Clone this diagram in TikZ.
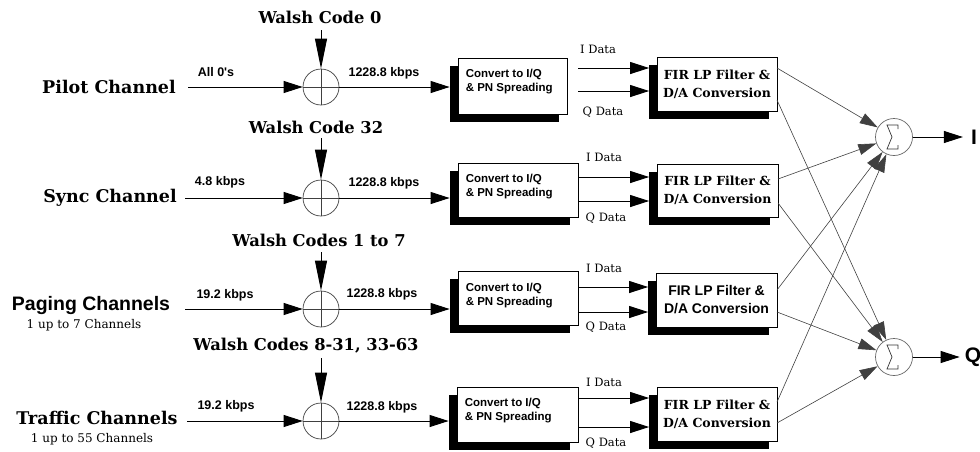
\documentclass[tikz,border=0pt]{standalone}
\usepackage{fontspec}
\setmainfont{DejaVu Serif}
\newfontfamily\hv{Liberation Sans}
\usetikzlibrary{arrows.meta,shadows,calc}

\tikzset{
  every node/.style={inner sep=1pt},
  sig/.style={line width=0.9pt, -{Triangle[length=19pt,width=12pt]}},
  warr/.style={line width=0.9pt, -{Triangle[length=30pt,width=12pt]}},
  xline/.style={line width=0.6pt, draw=black!75, -{Triangle[length=18pt,width=11pt]}},
  xorc/.style={circle, draw=black!75, line width=0.7pt, minimum size=36pt, inner sep=0pt,
    path picture={\draw[black!75,line width=0.7pt]
      (path picture bounding box.north) -- (path picture bounding box.south)
      (path picture bounding box.west) -- (path picture bounding box.east);}},
  sumc/.style={circle, draw=black!60, line width=0.7pt, minimum size=37pt, inner sep=0pt,
    path picture={\coordinate (pc) at (path picture bounding box.center);
      \draw[black!80,line width=0.7pt]
        ([shift={(4,-8)}]pc) -- ([shift={(4,-12)}]pc) -- ([shift={(-7,-12)}]pc)
        -- ([shift={(-2,0)}]pc) -- ([shift={(-7,12)}]pc) -- ([shift={(4,12)}]pc) -- ([shift={(4,8)}]pc);}},
  blk/.style={draw=black, line width=0.8pt, fill=white,
    drop shadow={shadow xshift=-8pt, shadow yshift=-8pt, fill=black, opacity=1}},
  chanS/.style={font=\bfseries\fontsize{17.5}{20}\selectfont},
  chanH/.style={font=\hv\bfseries\fontsize{19.5}{22}\selectfont},
  subS/.style={font=\fontsize{12}{14}\selectfont},
  walsh/.style={font=\bfseries\fontsize{16.3}{18}\selectfont},
  rate/.style={font=\hv\bfseries\fontsize{12.5}{14}\selectfont},
  dat/.style={font=\fontsize{11.5}{13}\selectfont},
  cvt/.style={font=\hv\bfseries\fontsize{11.5}{14.5}\selectfont, align=left, anchor=base west},
  firS/.style={font=\bfseries\fontsize{12.5}{18}\selectfont, align=center},
  firH/.style={font=\hv\bfseries\fontsize{14}{18}\selectfont, align=center},
  outl/.style={font=\hv\bfseries\fontsize{21}{24}\selectfont},
}

\begin{document}
\begin{tikzpicture}[x=1pt,y=-1pt]
\useasboundingbox (0,0) rectangle (980,451);

% channel names
\node[chanS] (pilot) at (109,87) {Pilot Channel};
\node[chanS] (sync) at (110,198) {Sync Channel};
\node[chanH] (paging) at (91,305) {Paging Channels};
\node[subS] (pagingsub) at (84,325) {1 up to 7 Channels};
\node[chanS] (traffic) at (97,418) {Traffic Channels};
\node[subS] (trafficsub) at (92,439) {1 up to 55 Channels};

% modulo-2 adders
\node[xorc] (x1) at (321,87) {};
\node[xorc] (x2) at (321,198) {};
\node[xorc] (x3) at (321,309) {};
\node[xorc] (x4) at (321,421) {};

% Walsh code inputs
\node[walsh] (w1) at (320,17) {Walsh Code 0};
\node[walsh] (w2) at (316,127) {Walsh Code 32};
\node[walsh] (w3) at (319,240) {Walsh Codes 1 to 7};
\node[walsh] (w4) at (306,346) {Walsh Codes 8-31, 33-63};
\coordinate (w1s) at (321,30);
\coordinate (w2s) at (321,138);
\coordinate (w3s) at (321,252);
\coordinate (w4s) at (321,358);
\draw[warr] (w1s) -- (x1);
\draw[warr] (w2s) -- (x2);
\draw[warr] (w3s) -- (x3);
\draw[warr] (w4s) -- (x4);

% channel data inputs
\coordinate (in1) at (188,87);
\coordinate (in2) at (185,198);
\coordinate (in3) at (185,309);
\coordinate (in4) at (187,421);
\draw[sig] (in1) -- (x1);
\draw[sig] (in2) -- (x2);
\draw[sig] (in3) -- (x3);
\draw[sig] (in4) -- (x4);
\node[rate] (ra1) at (216,72) {All 0's};
\node[rate] (ra2) at (220,182) {4.8 kbps};
\node[rate] (ra3) at (225,295) {19.2 kbps};
\node[rate] (ra4) at (226,406) {19.2 kbps};

% I/Q conversion and PN spreading
\node[blk, minimum width=109pt, minimum height=56pt] (c1) at (512.5,86) {};
\node[blk, minimum width=120pt, minimum height=54pt] (c2) at (518,190) {};
\node[blk, minimum width=120pt, minimum height=54pt] (c3) at (518,298) {};
\node[blk, minimum width=121pt, minimum height=55pt] (c4) at (517.5,414.5) {};
\node[cvt] (c1t) at ($(c1.north west)+(7,34)$) {Convert to I/Q\\\& PN Spreading};
\node[cvt] (c2t) at ($(c2.north west)+(7,34)$) {Convert to I/Q\\\& PN Spreading};
\node[cvt] (c3t) at ($(c3.north west)+(7,35)$) {Convert to I/Q\\\& PN Spreading};
\node[cvt] (c4t) at ($(c4.north west)+(7,34)$) {Convert to I/Q\\\& PN Spreading};

\node[rate] (rb1) at (384,73) {1228.8 kbps};
\node[rate] (rb2) at (384,183) {1228.8 kbps};
\node[rate] (rb3) at (382,294) {1228.8 kbps};
\node[rate] (rb4) at (382,407) {1228.8 kbps};
\draw[sig, shorten >=8pt] (x1) -- (x1 -| c1.west);
\draw[sig, shorten >=8pt] (x2) -- (x2 -| c2.west);
\draw[sig, shorten >=8pt] (x3) -- (x3 -| c3.west);
\draw[sig, shorten >=8pt] (x4) -- (x4 -| c4.west);

% FIR filters and D/A conversion
\node[blk, firS, minimum width=120pt, minimum height=54pt] (f1) at (717,84) {FIR LP Filter \&\\D/A Conversion};
\node[blk, firS, minimum width=121pt, minimum height=53pt] (f2) at (717.5,190.5) {FIR LP Filter \&\\D/A Conversion};
\node[blk, firH, minimum width=121pt, minimum height=54pt] (f3) at (716.5,300) {FIR LP Filter \&\\D/A Conversion};
\node[blk, firS, minimum width=120pt, minimum height=54pt] (f4) at (717,414) {FIR LP Filter \&\\D/A Conversion};

% I and Q data paths
\coordinate (i1) at (578,68);  \coordinate (q1) at (578,91);
\coordinate (i2) at (578,177); \coordinate (q2) at (578,201);
\coordinate (i3) at (578,287); \coordinate (q3) at (578,312);
\coordinate (i4) at (578,398); \coordinate (q4) at (578,427);
\foreach \k in {1,2,3,4}{
  \draw[sig, shorten >=7.5pt] (i\k) -- (i\k -| f\k.west);
  \draw[sig, shorten >=7.5pt] (q\k) -- (q\k -| f\k.west);
}
\node[dat] (id1) at (598,49) {I Data};   \node[dat] (qd1) at (603,112) {Q Data};
\node[dat] (id2) at (604,157) {I Data};  \node[dat] (qd2) at (606,218) {Q Data};
\node[dat] (id3) at (604,268) {I Data};  \node[dat] (qd3) at (606,327) {Q Data};
\node[dat] (id4) at (604,382) {I Data};  \node[dat] (qd4) at (606,443) {Q Data};

% summing junctions
\node[sumc] (sI) at (894,137) {};
\node[sumc] (sQ) at (894,357) {};
\coordinate (fi1) at (777,68);  \coordinate (fq1) at (777,100);
\coordinate (fi2) at (778,179); \coordinate (fq2) at (778,203);
\coordinate (fi3) at (777,290); \coordinate (fq3) at (777,312);
\coordinate (fi4) at (777,402); \coordinate (fq4) at (777,423);
\foreach \k in {1,2,3,4}{
  \draw[xline] (fi\k) -- (sI);
  \draw[xline] (fq\k) -- (sQ);
}

% outputs
\node[outl] (oI) at (974,137) {I};
\node[outl] (oQ) at (973,357) {Q};
\draw[sig, shorten >=7pt] (sI) -- (oI);
\draw[sig, shorten >=4pt] (sQ) -- (oQ);
\end{tikzpicture}
\end{document}
